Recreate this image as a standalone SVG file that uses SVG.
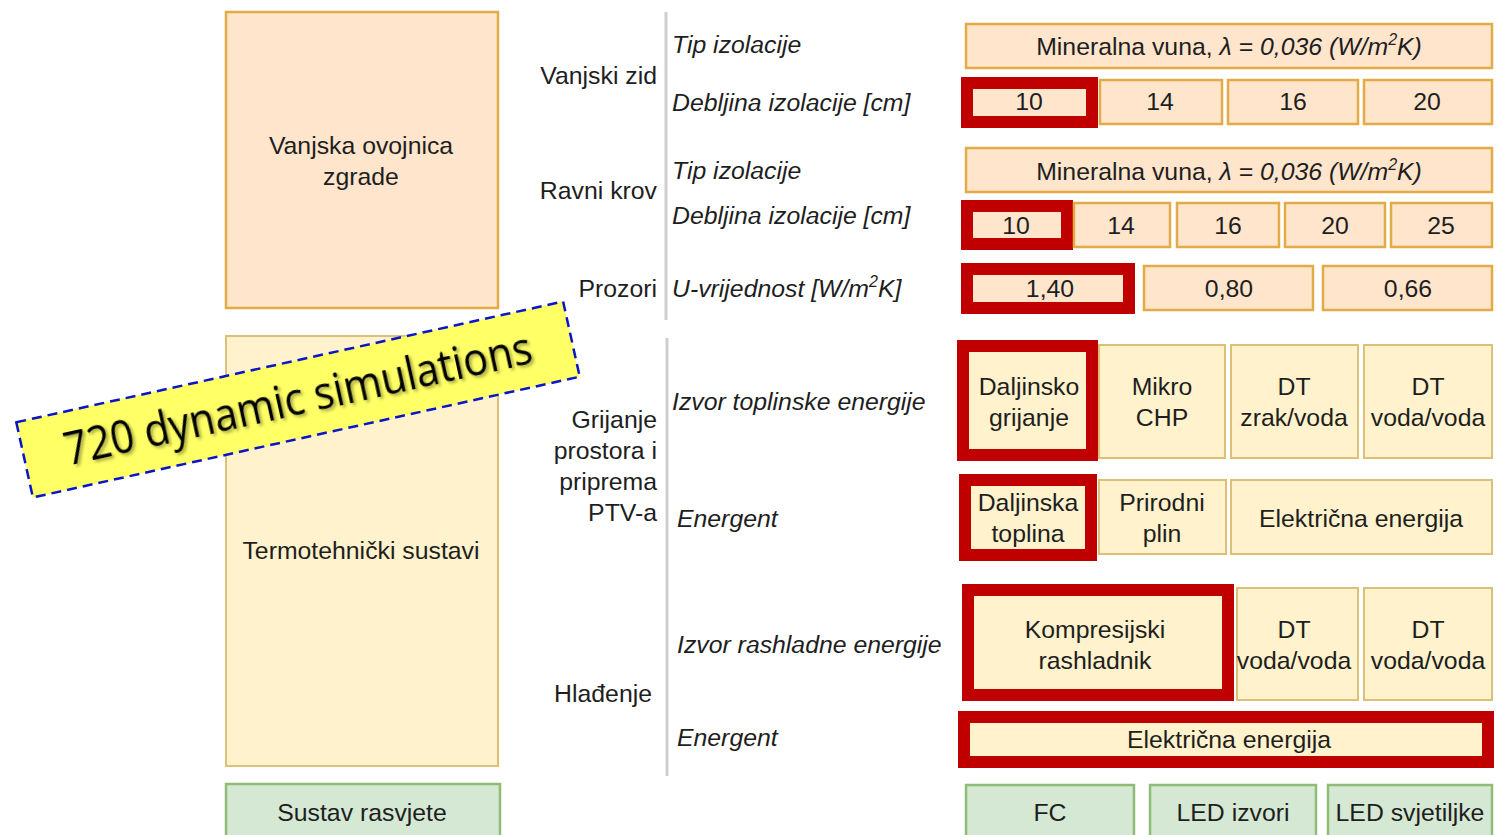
<svg xmlns="http://www.w3.org/2000/svg" width="1496" height="835" viewBox="0 0 1496 835">
<defs>
<style>
text{font-family:"Liberation Sans",Arial,sans-serif;font-size:24.8px;fill:#1e1e1e;}
.c{text-anchor:middle;}
.r{text-anchor:end;}
.i{font-style:italic;}
.peach{fill:#fee5cc;stroke:#e3ab45;stroke-width:2.5;}
.yel{fill:#fff2cc;stroke:#dcc077;stroke-width:2;}
.grn{fill:#d5e8d4;stroke:#8fbc76;stroke-width:2.5;}
.sel{fill:#fff2cc;stroke:#c00000;stroke-width:12;}
.selp{fill:#fee5cc;stroke:#c00000;stroke-width:12;}
.sep{stroke:#cfcfcf;stroke-width:3;fill:none;}
.sup{font-size:16px;}
</style>
<filter id="sh" x="-10%" y="-30%" width="120%" height="160%">
<feDropShadow dx="2" dy="2.5" stdDeviation="1.5" flood-color="#000" flood-opacity="0.35"/>
</filter>
</defs>
<rect width="1496" height="835" fill="#fff"/>

<!-- left category nodes -->
<g id="n-ovojnica">
<rect class="peach" x="226" y="12" width="272" height="296"/>
<text class="c" x="361" y="154">Vanjska ovojnica</text>
<text class="c" x="361" y="185">zgrade</text>
</g>
<g id="n-termo">
<rect class="yel" x="226" y="336" width="272" height="430"/>
<text class="c" x="361" y="559">Termotehnički sustavi</text>
</g>
<g id="n-rasvjeta">
<rect class="grn" x="226" y="784" width="274" height="60"/>
<text class="c" x="362" y="821">Sustav rasvjete</text>
</g>

<!-- separators -->
<g id="connectors">
<line class="sep" x1="666" y1="12" x2="666" y2="320"/>
<line class="sep" x1="667" y1="338" x2="667" y2="776"/>
</g>

<!-- group labels -->
<g id="l-vanjski-zid"><text class="r" x="657" y="84">Vanjski zid</text></g>
<g id="l-ravni-krov"><text class="r" x="657" y="199">Ravni krov</text></g>
<g id="l-prozori"><text class="r" x="657" y="297">Prozori</text></g>
<g id="l-grijanje">
<text class="r" x="657" y="428">Grijanje</text>
<text class="r" x="657" y="459">prostora i</text>
<text class="r" x="657" y="490">priprema</text>
<text class="r" x="657" y="521">PTV-a</text>
</g>
<g id="l-hladenje"><text class="r" x="652" y="702">Hlađenje</text></g>

<!-- parameter labels -->
<g id="p-tip1"><text class="i" x="672" y="53">Tip izolacije</text></g>
<g id="p-deb1"><text class="i" x="672" y="111">Debljina izolacije [cm]</text></g>
<g id="p-tip2"><text class="i" x="672" y="179">Tip izolacije</text></g>
<g id="p-deb2"><text class="i" x="672" y="224">Debljina izolacije [cm]</text></g>
<g id="p-u"><text class="i" x="672" y="297">U-vrijednost [W/m<tspan class="sup" dy="-10">2</tspan><tspan dy="10">K]</tspan></text></g>
<g id="p-izvor-t"><text class="i" x="672" y="410">Izvor toplinske energije</text></g>
<g id="p-energent1"><text class="i" x="677" y="527">Energent</text></g>
<g id="p-izvor-r"><text class="i" x="677" y="653">Izvor rashladne energije</text></g>
<g id="p-energent2"><text class="i" x="677" y="746">Energent</text></g>

<!-- wall -->
<g id="o-zid-tip">
<rect class="peach" x="966" y="24" width="526" height="44"/>
<text class="c" x="1229" y="55">Mineralna vuna, <tspan class="i">λ = 0,036 (W/m</tspan><tspan class="i sup" dy="-10">2</tspan><tspan class="i" dy="10">K)</tspan></text>
</g>
<g id="o-zid-10"><rect class="selp" x="967" y="83" width="125" height="39"/><text class="c" x="1029" y="110">10</text></g>
<g id="o-zid-14"><rect class="peach" x="1100" y="80" width="122" height="44"/><text class="c" x="1160" y="110">14</text></g>
<g id="o-zid-16"><rect class="peach" x="1228" y="80" width="130" height="44"/><text class="c" x="1293" y="110">16</text></g>
<g id="o-zid-20"><rect class="peach" x="1364" y="80" width="128" height="44"/><text class="c" x="1427" y="110">20</text></g>

<!-- roof -->
<g id="o-krov-tip">
<rect class="peach" x="966" y="148" width="526" height="44"/>
<text class="c" x="1229" y="180">Mineralna vuna, <tspan class="i">λ = 0,036 (W/m</tspan><tspan class="i sup" dy="-10">2</tspan><tspan class="i" dy="10">K)</tspan></text>
</g>
<g id="o-krov-10"><rect class="selp" x="967" y="206" width="100" height="38"/><text class="c" x="1016" y="234">10</text></g>
<g id="o-krov-14"><rect class="peach" x="1074" y="203" width="96" height="44"/><text class="c" x="1121" y="234">14</text></g>
<g id="o-krov-16"><rect class="peach" x="1177" y="203" width="102" height="44"/><text class="c" x="1228" y="234">16</text></g>
<g id="o-krov-20"><rect class="peach" x="1285" y="203" width="100" height="44"/><text class="c" x="1335" y="234">20</text></g>
<g id="o-krov-25"><rect class="peach" x="1391" y="203" width="101" height="44"/><text class="c" x="1441" y="234">25</text></g>

<!-- windows -->
<g id="o-proz-140"><rect class="selp" x="967" y="269" width="162" height="39"/><text class="c" x="1050" y="297">1,40</text></g>
<g id="o-proz-080"><rect class="peach" x="1144" y="266" width="169" height="44"/><text class="c" x="1229" y="297">0,80</text></g>
<g id="o-proz-066"><rect class="peach" x="1323" y="266" width="169" height="44"/><text class="c" x="1408" y="297">0,66</text></g>

<!-- heating source -->
<g id="o-gr-dg"><rect class="sel" x="963" y="346" width="129" height="109"/><text class="c" x="1029" y="395">Daljinsko</text><text class="c" x="1029" y="426">grijanje</text></g>
<g id="o-gr-chp"><rect class="yel" x="1099" y="345" width="126" height="113"/><text class="c" x="1162" y="395">Mikro</text><text class="c" x="1162" y="426">CHP</text></g>
<g id="o-gr-dtz"><rect class="yel" x="1231" y="345" width="127" height="113"/><text class="c" x="1294" y="395">DT</text><text class="c" x="1294" y="426">zrak/voda</text></g>
<g id="o-gr-dtv"><rect class="yel" x="1364" y="345" width="128" height="113"/><text class="c" x="1428" y="395">DT</text><text class="c" x="1428" y="426">voda/voda</text></g>

<!-- heating energy -->
<g id="o-ge-dt"><rect class="sel" x="965" y="480" width="126" height="75"/><text class="c" x="1028" y="511">Daljinska</text><text class="c" x="1028" y="542">toplina</text></g>
<g id="o-ge-pp"><rect class="yel" x="1099" y="480" width="127" height="74"/><text class="c" x="1162" y="511">Prirodni</text><text class="c" x="1162" y="542">plin</text></g>
<g id="o-ge-ee"><rect class="yel" x="1231" y="480" width="261" height="74"/><text class="c" x="1361" y="527">Električna energija</text></g>

<!-- cooling source -->
<g id="o-hl-kr"><rect class="sel" x="968" y="590" width="260" height="105"/><text class="c" x="1095" y="638">Kompresijski</text><text class="c" x="1095" y="669">rashladnik</text></g>
<g id="o-hl-dt1"><rect class="yel" x="1237" y="588" width="121" height="112"/><text class="c" x="1294" y="638">DT</text><text class="c" x="1294" y="669">voda/voda</text></g>
<g id="o-hl-dt2"><rect class="yel" x="1364" y="588" width="128" height="112"/><text class="c" x="1428" y="638">DT</text><text class="c" x="1428" y="669">voda/voda</text></g>

<!-- cooling energy -->
<g id="o-he-ee"><rect class="sel" x="964" y="717" width="524" height="45"/><text class="c" x="1229" y="748">Električna energija</text></g>

<!-- lighting -->
<g id="o-r-fc"><rect class="grn" x="966" y="785" width="168" height="60"/><text class="c" x="1050" y="821">FC</text></g>
<g id="o-r-ledi"><rect class="grn" x="1150" y="785" width="166" height="60"/><text class="c" x="1233" y="821">LED izvori</text></g>
<g id="o-r-leds"><rect class="grn" x="1328" y="785" width="164" height="60"/><text class="c" x="1410" y="821">LED svjetiljke</text></g>

<!-- banner -->
<g id="banner" transform="translate(298,399.5) rotate(-12.45)">
<rect x="-280" y="-38.5" width="560" height="77" fill="#ffff66" stroke="#0a14c8" stroke-width="2.5" stroke-dasharray="10,6"/>
<text x="0" y="15" text-anchor="middle" filter="url(#sh)" style="font-family:'Open Sans',Lato,sans-serif;font-size:45px;fill:#000;" textLength="478" lengthAdjust="spacingAndGlyphs">720 dynamic simulations</text>
</g>
</svg>
